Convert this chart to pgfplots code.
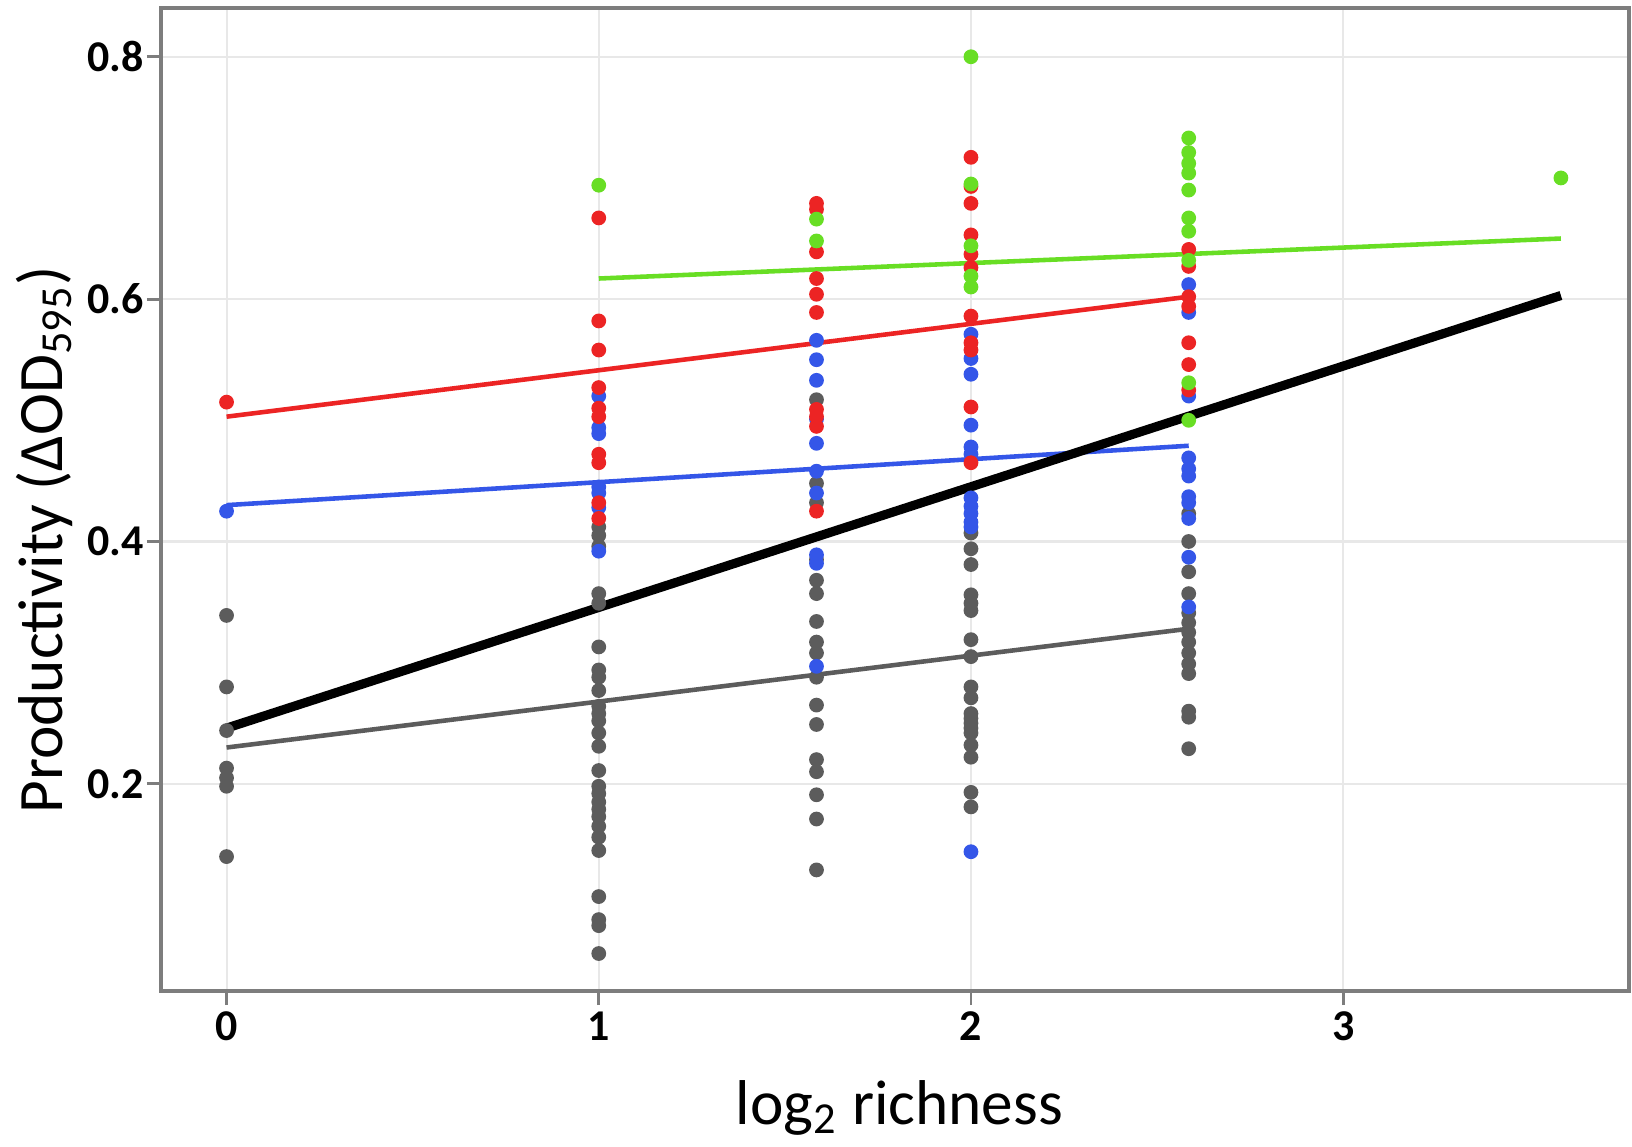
\documentclass[border=0pt]{standalone}
\usepackage{pgfplots}
\pgfplotsset{compat=1.18}
\usepackage{fontspec}
\setmainfont{Carlito}
\definecolor{cgreen}{RGB}{104,222,36}
\definecolor{cred}{RGB}{236,36,36}
\definecolor{cblue}{RGB}{52,86,232}
\definecolor{cgrey}{RGB}{92,92,92}
\definecolor{cgrid}{RGB}{232,232,232}
\definecolor{cframe}{RGB}{125,125,125}
\begin{document}
\begin{tikzpicture}
\begin{axis}[
  scale only axis, width=14.675cm, height=9.825cm,
  xmin=-0.176, xmax=3.768, ymin=0.029, ymax=0.840,
  xtick={0,1,2,3}, ytick={0.2,0.4,0.6,0.8},
  yticklabel style={/pgf/number format/fixed,/pgf/number format/precision=1, xshift=0.9mm},
  xticklabel style={yshift=0.6mm},
  /pgf/number format/assume math mode=true,
  ticklabel style={font=\fontsize{12.5}{14}\selectfont\bfseries},
  grid=major, major grid style={cgrid, line width=0.6pt},
  axis line style={cframe, line width=1.1pt},
  tick style={cframe, line width=0.8pt},
  tick align=outside, major tick length=4pt,
  xtick pos=bottom, ytick pos=left,
  xlabel={log\textsubscript{2} richness},
  ylabel={Productivity (ΔOD\textsubscript{595})},
  label style={font=\fontsize{18}{20}\selectfont},
  xlabel style={at={(axis description cs:0.503,-0.119)}, anchor=center},
  ylabel style={at={(axis description cs:-0.0797,0.459)}, anchor=center},
  clip=false,
]
% grey points
\addplot[only marks, color=cgrey, mark=*, mark size=1.9pt] coordinates {
(0,0.339)(0,0.280)(0,0.244)(0,0.213)(0,0.205)(0,0.198)(0,0.140)
(1,0.412)(1,0.405)(1,0.396)(1,0.357)(1,0.349)(1,0.313)(1,0.294)(1,0.288)(1,0.277)(1,0.264)(1,0.258)(1,0.252)(1,0.242)(1,0.231)(1,0.211)(1,0.198)(1,0.192)(1,0.185)(1,0.179)(1,0.173)(1,0.165)(1,0.156)(1,0.145)(1,0.107)(1,0.088)(1,0.083)(1,0.060)
(1.585,0.517)(1.585,0.448)(1.585,0.432)(1.585,0.385)(1.585,0.368)(1.585,0.357)(1.585,0.334)(1.585,0.317)(1.585,0.308)(1.585,0.288)(1.585,0.265)(1.585,0.249)(1.585,0.220)(1.585,0.210)(1.585,0.191)(1.585,0.171)(1.585,0.129)
(2,0.407)(2,0.394)(2,0.381)(2,0.356)(2,0.349)(2,0.343)(2,0.319)(2,0.305)(2,0.280)(2,0.271)(2,0.258)(2,0.254)(2,0.250)(2,0.246)(2,0.242)(2,0.232)(2,0.222)(2,0.193)(2,0.181)
(2.585,0.423)(2.585,0.400)(2.585,0.375)(2.585,0.357)(2.585,0.341)(2.585,0.333)(2.585,0.325)(2.585,0.317)(2.585,0.308)(2.585,0.299)(2.585,0.291)(2.585,0.260)(2.585,0.255)(2.585,0.229)
};
% blue points
\addplot[only marks, color=cblue, mark=*, mark size=1.9pt] coordinates {
(0,0.425)
(1,0.520)(1,0.494)(1,0.489)(1,0.445)(1,0.440)(1,0.428)(1,0.392)
(1.585,0.566)(1.585,0.550)(1.585,0.533)(1.585,0.501)(1.585,0.481)(1.585,0.458)(1.585,0.440)(1.585,0.389)(1.585,0.382)(1.585,0.297)
(2,0.571)(2,0.551)(2,0.538)(2,0.496)(2,0.478)(2,0.472)(2,0.436)(2,0.429)(2,0.423)(2,0.416)(2,0.412)(2,0.144)
(2.585,0.612)(2.585,0.589)(2.585,0.520)(2.585,0.469)(2.585,0.460)(2.585,0.454)(2.585,0.437)(2.585,0.432)(2.585,0.419)(2.585,0.387)(2.585,0.346)
};
% red points
\addplot[only marks, color=cred, mark=*, mark size=1.9pt] coordinates {
(0,0.515)
(1,0.667)(1,0.582)(1,0.558)(1,0.527)(1,0.510)(1,0.503)(1,0.472)(1,0.465)(1,0.432)(1,0.419)
(1.585,0.679)(1.585,0.674)(1.585,0.639)(1.585,0.617)(1.585,0.604)(1.585,0.589)(1.585,0.509)(1.585,0.503)(1.585,0.495)(1.585,0.425)
(2,0.717)(2,0.693)(2,0.679)(2,0.653)(2,0.637)(2,0.626)(2,0.586)(2,0.564)(2,0.558)(2,0.511)(2,0.465)
(2.585,0.641)(2.585,0.627)(2.585,0.602)(2.585,0.594)(2.585,0.564)(2.585,0.546)(2.585,0.525)
};
% green points
\addplot[only marks, color=cgreen, mark=*, mark size=1.9pt] coordinates {
(1,0.694)
(1.585,0.666)(1.585,0.648)
(2,0.800)(2,0.695)(2,0.644)(2,0.619)(2,0.610)
(2.585,0.733)(2.585,0.721)(2.585,0.712)(2.585,0.704)(2.585,0.690)(2.585,0.667)(2.585,0.656)(2.585,0.632)(2.585,0.531)(2.585,0.500)
(3.585,0.700)
};
% fitted lines
\addplot[cgreen, line width=1.3pt] coordinates {(1,0.617)(3.585,0.650)};
\addplot[cred, line width=1.3pt] coordinates {(0,0.503)(2.585,0.602)};
\addplot[cblue, line width=1.3pt] coordinates {(0,0.430)(2.585,0.479)};
\addplot[cgrey, line width=1.3pt] coordinates {(0,0.230)(2.585,0.328)};
\addplot[black, line width=2.6pt] coordinates {(0,0.246)(3.585,0.603)};
\end{axis}
\pgfresetboundingbox
\path[use as bounding box] (current axis.south west) ++(-1.61cm,-1.55cm) rectangle ([xshift=0.03cm,yshift=0.083cm]current axis.north east);
\end{tikzpicture}
\end{document}
